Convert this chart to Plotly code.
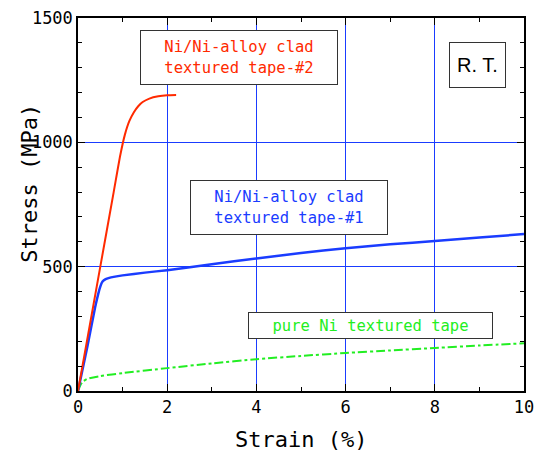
import plotly.graph_objects as go

# Ni/Ni-alloy clad textured tape-#2 (red)
strain_t2 = [0, 0.5, 0.8, 0.95, 1.05, 1.15, 1.25, 1.35, 1.45, 1.6, 1.8, 2.0, 2.2]
stress_t2 = [0, 500, 800, 950, 1030, 1085, 1120, 1145, 1162, 1176, 1185, 1189, 1190]

# Ni/Ni-alloy clad textured tape-#1 (blue)
strain_t1 = [0, 0.2, 0.4, 0.5, 0.55, 0.62, 0.7, 0.8, 1.0, 1.5, 2, 3, 4, 5, 6, 7, 8, 9, 10]
stress_t1 = [0, 170, 350, 420, 440, 450, 455, 459, 465, 476, 486, 510, 533, 555, 574, 590, 603, 617, 631]

# pure Ni textured tape (green)
strain_ni = [0, 0.05, 0.1, 0.2, 0.5, 1, 2, 3, 4, 5, 6, 7, 8, 9, 10]
stress_ni = [0, 22, 36, 48, 60, 72, 92, 111, 128, 141, 153, 163, 173, 183, 192]

x_ticks = [0, 2, 4, 6, 8, 10]
y_ticks = [0, 500, 1000, 1500]

MONO = "DejaVu Sans Mono"

fig = go.Figure()
fig.add_trace(go.Scatter(x=strain_ni, y=stress_ni, mode="lines",
                         line=dict(color="#22ee22", width=2, dash="dashdot", shape="spline", smoothing=0.6)))
fig.add_trace(go.Scatter(x=strain_t1, y=stress_t1, mode="lines",
                         line=dict(color="#1a3cff", width=2.5, shape="spline", smoothing=0.5)))
fig.add_trace(go.Scatter(x=strain_t2, y=stress_t2, mode="lines",
                         line=dict(color="#ff2a00", width=2, shape="spline", smoothing=0.6)))

axis_common = dict(
    showline=True, linecolor="black", linewidth=1.5, mirror="allticks",
    ticks="inside", ticklen=7, tickcolor="black", tickwidth=1,
    showgrid=True, gridcolor="#1a3cff", gridwidth=1,
    zeroline=False, automargin=False, ticklabeloverflow="allow",
    tickfont=dict(family=MONO, size=17, color="black"),
)

fig.update_xaxes(range=[0, 10], tickvals=x_ticks, ticktext=[str(v) for v in x_ticks],
                 minor=dict(dtick=1, tick0=0, ticks="inside", ticklen=4, tickcolor="black", showgrid=False),
                 **axis_common)
fig.update_yaxes(range=[0, 1500], tickvals=y_ticks, ticktext=[str(v) for v in y_ticks],
                 minor=dict(dtick=100, tick0=0, ticks="inside", ticklen=4, tickcolor="black", showgrid=False),
                 **axis_common)

box = dict(showarrow=False, bordercolor="#333333", borderwidth=1, bgcolor="white",
           xref="x", yref="y", xanchor="center", yanchor="middle")

fig.add_annotation(x=3.61, y=1341, text="Ni/Ni-alloy clad<br>textured tape-#2",
                   font=dict(family=MONO, size=15.5, color="#ff2a00"),
                   width=190, height=47, borderpad=3, align="center", **box)
fig.add_annotation(x=4.73, y=738, text="Ni/Ni-alloy clad<br>textured tape-#1",
                   font=dict(family=MONO, size=15.5, color="#1a3cff"),
                   width=190, height=47, borderpad=3, align="center", **box)
fig.add_annotation(x=6.56, y=263, text="pure Ni textured tape",
                   font=dict(family=MONO, size=15.5, color="#22ee22"),
                   width=237, height=19, borderpad=3, align="center", **box)
fig.add_annotation(x=8.96, y=1311, text="R. T.",
                   font=dict(family="Liberation Sans", size=20, color="black"),
                   width=49, height=38, borderpad=3, align="center", **box)

fig.add_annotation(x=0.5, y=-0.131, xref="paper", yref="paper", showarrow=False,
                   text="Strain (%)", xanchor="center", yanchor="middle",
                   font=dict(family=MONO, size=22, color="black"))
fig.add_annotation(x=-0.108, y=0.558, xref="paper", yref="paper", showarrow=False,
                   text="Stress (MPa)", textangle=-90, xanchor="center", yanchor="middle",
                   font=dict(family=MONO, size=22, color="black"))

fig.update_layout(
    width=538, height=456,
    margin=dict(l=78, r=14, t=18, b=65),
    paper_bgcolor="white", plot_bgcolor="white",
    showlegend=False,
)

# remove the default page margin so the figure fills the window exactly
fig.write_html("out.html", config={"displayModeBar": False},
               post_script="document.body.style.margin='0px';document.body.style.overflow='hidden';")
